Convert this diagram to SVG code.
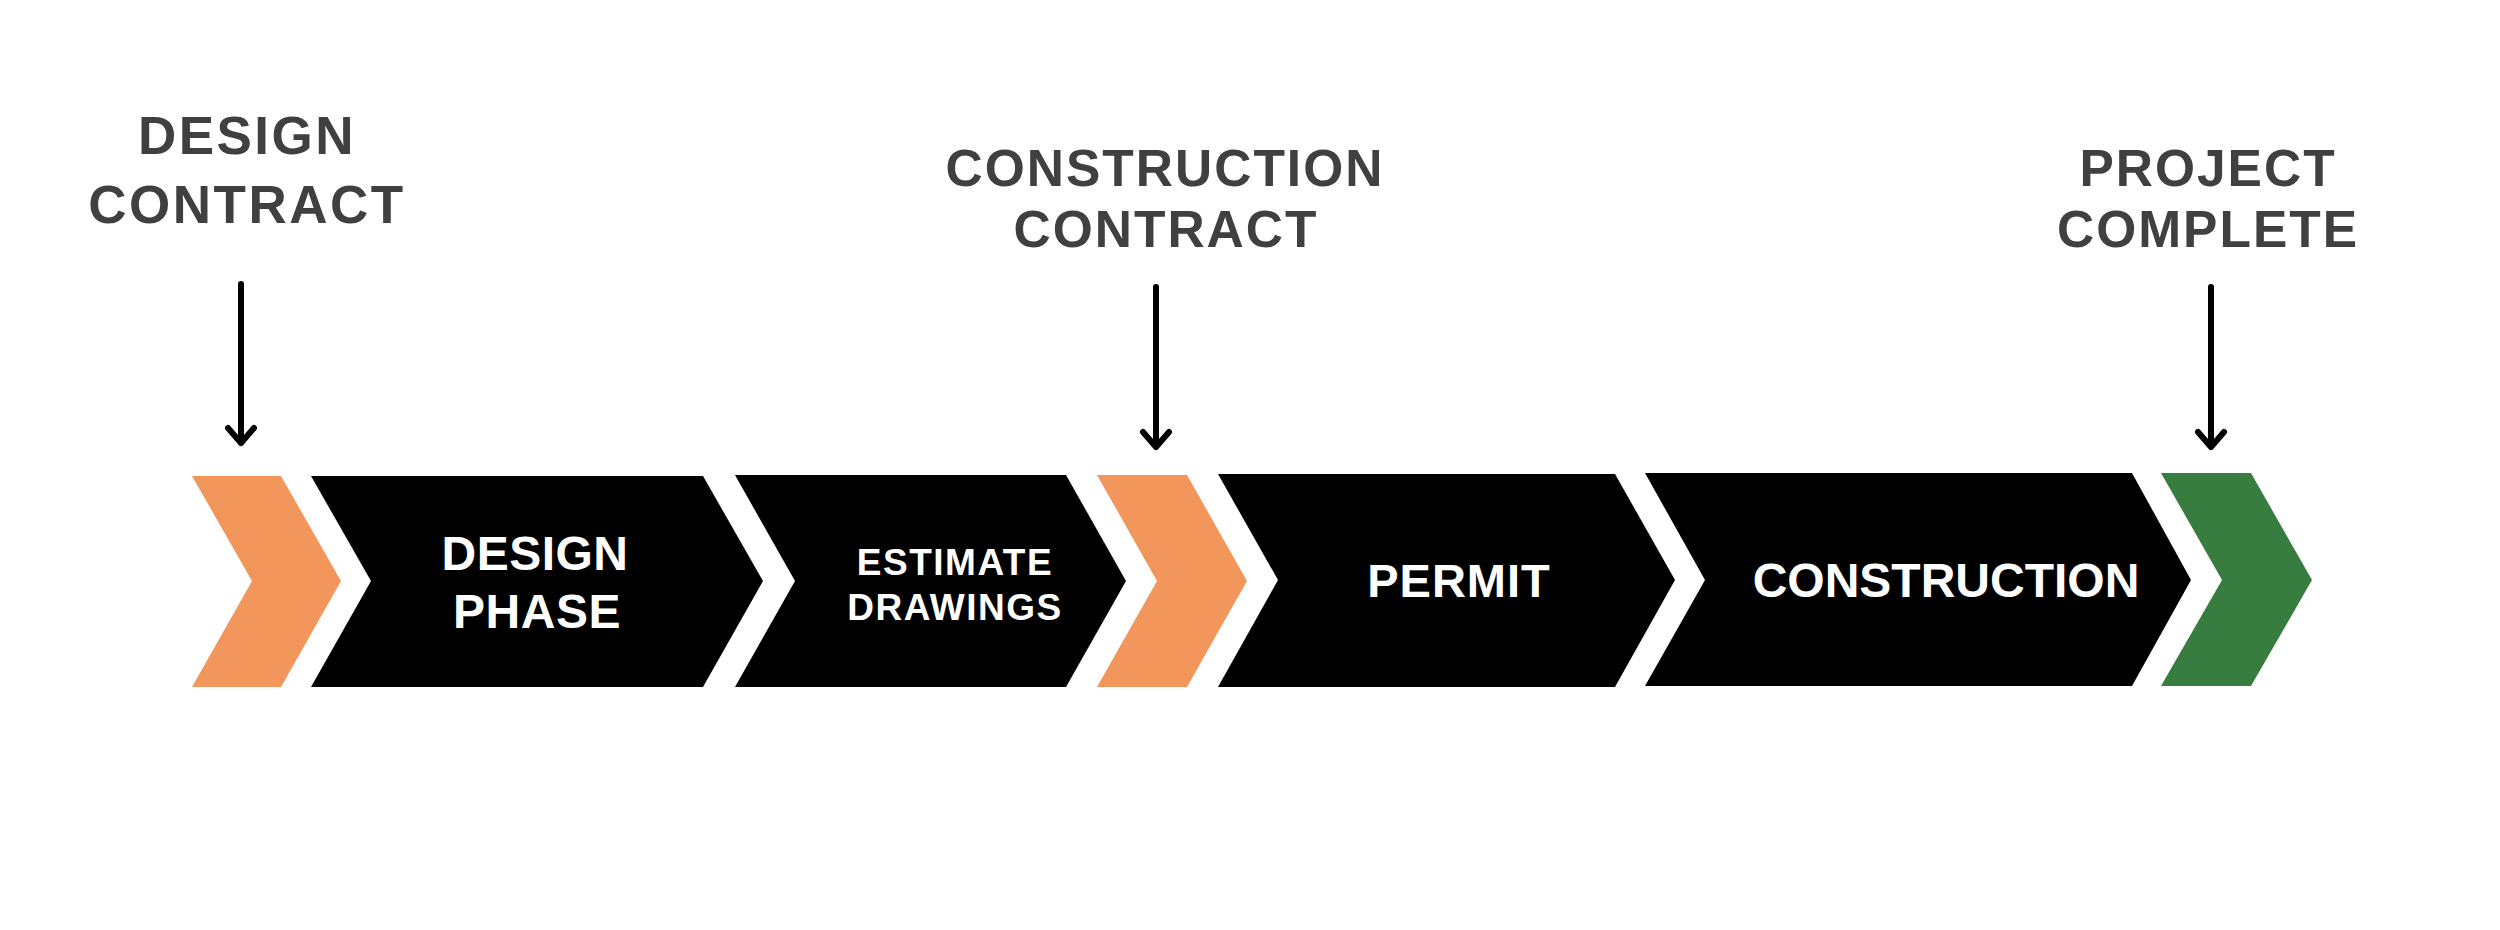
<svg xmlns="http://www.w3.org/2000/svg" width="2500" height="930" viewBox="0 0 2500 930">
<style>
.lbl{font-family:"Liberation Sans",Arial,sans-serif;font-weight:bold;fill:#404040;text-anchor:middle;font-size:53px;letter-spacing:2.5px}
.lbl2{font-size:51.5px;letter-spacing:2px}
.in{font-family:"Liberation Sans",Arial,sans-serif;font-weight:bold;fill:#ffffff;text-anchor:middle}
.blk{fill:#000000}
.org{fill:#F2965C}
.grn{fill:#377D3F}
.arr{fill:none;stroke:#000000;stroke-width:6;stroke-linecap:round;stroke-linejoin:round}
</style>
<rect width="2500" height="930" fill="#ffffff"/>
<g id="label-design-contract">
<text class="lbl" x="247" y="154">DESIGN</text>
<text class="lbl" x="247" y="223">CONTRACT</text>
</g>
<g id="label-construction-contract">
<text class="lbl lbl2" x="1165" y="186">CONSTRUCTION</text>
<text class="lbl lbl2" x="1166" y="247">CONTRACT</text>
</g>
<g id="label-project-complete">
<text class="lbl lbl2" x="2208" y="186" letter-spacing="0.5">PROJECT</text>
<text class="lbl lbl2" x="2208" y="247" letter-spacing="1.5">COMPLETE</text>
</g>
<g id="connectors">
<path class="arr" d="M241,284 V443 M228,428 L241,443 L254,428"/>
<path class="arr" d="M1156,287 V447 M1143,432 L1156,447 L1169,432"/>
<path class="arr" d="M2211,287 V447 M2198,432 L2211,447 L2224,432"/>
</g>
<g id="node-design-contract-marker">
<polygon class="org" points="192,476 281,476 341,581 281,687 192,687 252,581"/>
</g>
<g id="node-design-phase">
<polygon class="blk" points="311,476 703,476 763,581 703,687 311,687 371,581"/>
<text class="in" x="535" y="570" font-size="48" letter-spacing="0.5">DESIGN</text>
<text class="in" x="537" y="628" font-size="48" letter-spacing="0.5">PHASE</text>
</g>
<g id="node-estimate-drawings">
<polygon class="blk" points="735,475 1066,475 1126,581 1066,687 735,687 795,581"/>
<text class="in" x="955" y="575" font-size="37" letter-spacing="1.5">ESTIMATE</text>
<text class="in" x="955" y="620" font-size="37" letter-spacing="1.5">DRAWINGS</text>
</g>
<g id="node-construction-contract-marker">
<polygon class="org" points="1097,475 1187,475 1247,581 1187,687 1097,687 1157,581"/>
</g>
<g id="node-permit">
<polygon class="blk" points="1218,474 1615,474 1675,580 1615,687 1218,687 1278,580"/>
<text class="in" x="1459" y="597" font-size="47" letter-spacing="1">PERMIT</text>
</g>
<g id="node-construction">
<polygon class="blk" points="1645,473 2132,473 2191,580 2132,686 1645,686 1705,580"/>
<text class="in" x="1946" y="597" font-size="48" letter-spacing="0">CONSTRUCTION</text>
</g>
<g id="node-project-complete-marker">
<polygon class="grn" points="2161,473 2251,473 2312,580 2251,686 2161,686 2222,580"/>
</g>
</svg>
